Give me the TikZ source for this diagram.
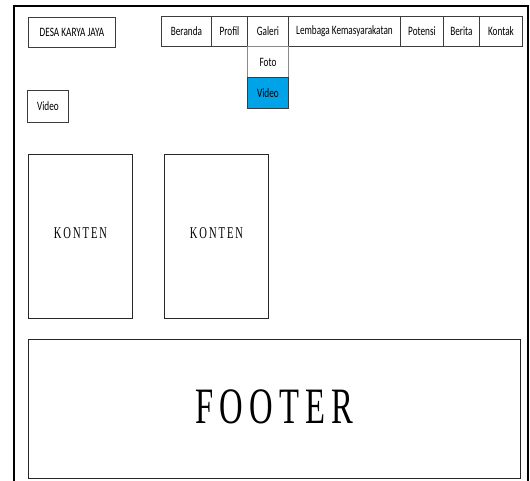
\documentclass[tikz,border=0pt]{standalone}
\usepackage{fontspec}
\newfontfamily\navfont[FakeStretch=0.72]{Carlito}
\newfontfamily\spserif[FakeStretch=0.64,LetterSpace=12]{Liberation Serif}
\definecolor{dropblue}{RGB}{0,162,232}
\definecolor{edge}{RGB}{60,60,60}
\tikzset{
  box/.style={draw=edge, line width=0.9pt, inner sep=0pt, anchor=north west, font=\navfont\fontsize{12.8}{14}\selectfont},
  bigbox/.style={draw=black!85, line width=0.9pt, inner sep=0pt, anchor=north west},
  frame/.style={line width=2.6pt, black}
}
\begin{document}
\begin{tikzpicture}[x=1pt,y=-1pt]
\useasboundingbox (0,0) rectangle (530,481);
% outer frame
\coordinate (f1) at (14,495);
\coordinate (f2) at (14,6);
\coordinate (f3) at (528,6);
\coordinate (f4) at (528,495);
\draw[frame] (f1) -- (f2) -- (f3) -- (f4);
% brand
\node[box, minimum width=87pt, minimum height=30pt] (brand) at (28,17) {DESA KARYA JAYA};
% navigation
\node[box, minimum width=50pt, minimum height=30pt] (beranda) at (161,16) {Beranda};
\node[box, minimum width=36pt, minimum height=30pt] (profil) at (211,16) {Profil};
\node[box, minimum width=41pt, minimum height=30pt] (galeri) at (247,16) {Galeri};
\node[box, minimum width=112pt, minimum height=30pt] (lembaga) at (288,16) {Lembaga Kemasyarakatan};
\node[box, minimum width=43pt, minimum height=30pt] (potensi) at (400,16) {Potensi};
\node[box, minimum width=36pt, minimum height=30pt] (berita) at (443,16) {Berita};
\node[box, minimum width=43pt, minimum height=30pt] (kontak) at (479,16) {Kontak};
% dropdown
\node[box, draw=edge!60, minimum width=41pt, minimum height=31pt] (foto) at (247,46) {Foto};
\node[box, fill=dropblue, minimum width=41pt, minimum height=31pt] (video) at (247,77) {Video};
% left video box
\node[box, minimum width=41pt, minimum height=32pt] (vid) at (27,90) {Video};
% content boxes
\node[bigbox, minimum width=104pt, minimum height=164pt, font=\spserif\fontsize{16.5}{18}\selectfont] (k1) at (28,154) {\raisebox{6pt}{KONTEN}};
\node[bigbox, minimum width=104pt, minimum height=164pt, font=\spserif\fontsize{16.5}{18}\selectfont] (k2) at (164,154) {\raisebox{6pt}{KONTEN}};
% footer
\node[bigbox, minimum width=492pt, minimum height=139pt, font=\spserif\fontsize{51}{56}\selectfont] (footer) at (28,339) {\raisebox{5pt}{FOOTER}};
\end{tikzpicture}
\end{document}
